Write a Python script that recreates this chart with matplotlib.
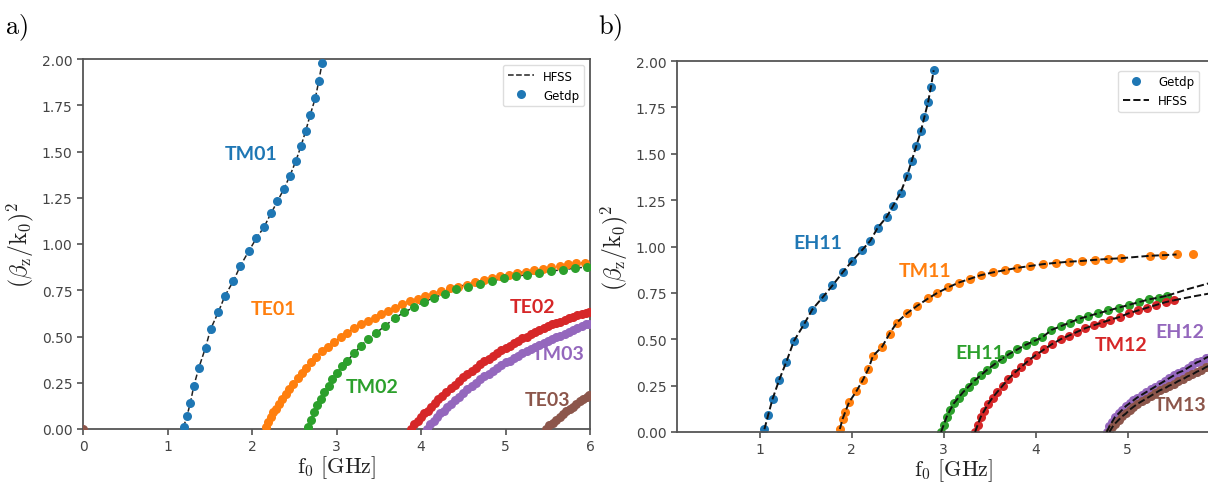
# -*- coding: utf-8 -*-
import matplotlib
matplotlib.use("Agg")
import matplotlib.pyplot as plt
from matplotlib.lines import Line2D

plt.rcParams['font.family'] = ['DejaVu Sans']
plt.rcParams['mathtext.fontset'] = 'cm'

# ---------------- panel a) : Getdp points ----------------
tm01_f = [1.19, 1.23, 1.27, 1.31, 1.37, 1.45, 1.51, 1.60, 1.68, 1.78, 1.86, 1.96, 2.05,
          2.14, 2.23, 2.30, 2.38, 2.45, 2.52, 2.58, 2.635, 2.69, 2.75, 2.79, 2.83]
tm01_v = [0.01, 0.07, 0.14, 0.23, 0.33, 0.44, 0.54, 0.63, 0.72, 0.80, 0.88, 0.96, 1.03,
          1.09, 1.17, 1.23, 1.30, 1.37, 1.45, 1.53, 1.61, 1.70, 1.79, 1.88, 1.98]

te01_f = [2.16, 2.19, 2.22, 2.25, 2.28, 2.32, 2.36, 2.40, 2.44, 2.49, 2.54, 2.59, 2.64,
          2.70, 2.76, 2.83, 2.90, 2.97, 3.05, 3.13, 3.21, 3.29, 3.37, 3.45, 3.53, 3.61,
          3.69, 3.78, 3.87, 3.96, 4.05, 4.14, 4.24, 4.34, 4.44, 4.54, 4.64, 4.74, 4.84,
          4.94, 5.04, 5.14, 5.24, 5.34, 5.44, 5.54, 5.64, 5.74, 5.84, 5.94]
te01_v = [0.01, 0.04, 0.065, 0.09, 0.11, 0.135, 0.16, 0.19, 0.215, 0.245, 0.275, 0.305, 0.33,
          0.36, 0.39, 0.42, 0.445, 0.47, 0.495, 0.52, 0.545, 0.565, 0.585, 0.60, 0.62, 0.64,
          0.655, 0.675, 0.69, 0.705, 0.72, 0.73, 0.745, 0.76, 0.77, 0.78, 0.795, 0.805, 0.815,
          0.825, 0.835, 0.845, 0.85, 0.86, 0.865, 0.875, 0.88, 0.89, 0.895, 0.90]

tm02_f = [2.66, 2.70, 2.735, 2.775, 2.815, 2.855, 2.91, 2.95, 3.01, 3.07, 3.13, 3.21, 3.29,
          3.37, 3.47, 3.57, 3.69, 3.80, 3.92, 4.03, 4.15, 4.28, 4.42, 4.56, 4.70, 4.84,
          4.98, 5.12, 5.26, 5.40, 5.54, 5.68, 5.82, 5.96]
tm02_v = [0.01, 0.05, 0.09, 0.13, 0.16, 0.20, 0.235, 0.27, 0.305, 0.34, 0.37, 0.41, 0.45,
          0.485, 0.52, 0.555, 0.60, 0.63, 0.66, 0.685, 0.71, 0.73, 0.755, 0.77, 0.785, 0.80,
          0.815, 0.825, 0.835, 0.845, 0.855, 0.86, 0.87, 0.875]

te02_f = [3.88, 3.92, 3.96, 4.00, 4.04, 4.08, 4.12, 4.16, 4.20, 4.25, 4.30, 4.35, 4.40,
          4.45, 4.50, 4.55, 4.60, 4.65, 4.70, 4.75, 4.80, 4.85, 4.90, 4.95, 5.00, 5.05,
          5.10, 5.15, 5.20, 5.25, 5.30, 5.35, 5.40, 5.45, 5.50, 5.55, 5.60, 5.65, 5.70,
          5.75, 5.80, 5.85, 5.90, 5.95, 5.99]
te02_v = [0.00, 0.025, 0.045, 0.065, 0.085, 0.10, 0.12, 0.14, 0.16, 0.18, 0.20, 0.22, 0.24,
          0.26, 0.28, 0.30, 0.315, 0.33, 0.35, 0.365, 0.38, 0.395, 0.41, 0.425, 0.44, 0.45,
          0.465, 0.475, 0.49, 0.50, 0.515, 0.525, 0.535, 0.545, 0.555, 0.565, 0.575, 0.58, 0.59,
          0.60, 0.605, 0.615, 0.62, 0.625, 0.63]

tm03_f = [4.07, 4.11, 4.15, 4.19, 4.23, 4.27, 4.31, 4.35, 4.40, 4.45, 4.50, 4.55, 4.60,
          4.65, 4.70, 4.75, 4.80, 4.85, 4.90, 4.95, 5.00, 5.05, 5.10, 5.15, 5.20, 5.25,
          5.30, 5.35, 5.40, 5.45, 5.50, 5.55, 5.60, 5.65, 5.70, 5.75, 5.80, 5.85, 5.90,
          5.95, 5.99]
tm03_v = [0.00, 0.025, 0.045, 0.065, 0.085, 0.10, 0.12, 0.135, 0.155, 0.175, 0.195, 0.215, 0.235,
          0.25, 0.27, 0.285, 0.30, 0.315, 0.33, 0.345, 0.36, 0.37, 0.385, 0.395, 0.41, 0.42,
          0.435, 0.445, 0.455, 0.465, 0.475, 0.485, 0.495, 0.505, 0.515, 0.525, 0.535, 0.545, 0.555,
          0.565, 0.57]

te03_f = [0.0, 5.48, 5.52, 5.56, 5.60, 5.64, 5.68, 5.72, 5.76, 5.80, 5.84, 5.88, 5.92, 5.96, 5.99]
te03_v = [0.0, 0.0, 0.02, 0.035, 0.05, 0.065, 0.08, 0.095, 0.11, 0.12, 0.135, 0.15, 0.16, 0.175, 0.185]

# ---------------- panel b) : Getdp points ----------------
eh11_f = [1.05, 1.09, 1.14, 1.21, 1.29, 1.37, 1.48, 1.57, 1.69, 1.79, 1.90, 2.00, 2.11,
          2.20, 2.28, 2.38, 2.45, 2.53, 2.60, 2.65, 2.70, 2.75, 2.79, 2.83, 2.86, 2.89]
eh11_v = [0.015, 0.09, 0.18, 0.28, 0.38, 0.49, 0.58, 0.66, 0.73, 0.79, 0.86, 0.92, 0.98,
          1.03, 1.10, 1.16, 1.22, 1.29, 1.38, 1.46, 1.54, 1.62, 1.70, 1.78, 1.86, 1.95]

tm11_f = [1.87, 1.90, 1.93, 1.97, 2.05, 2.12, 2.18, 2.23, 2.33, 2.41, 2.49, 2.60, 2.71,
          2.83, 2.93, 3.05, 3.16, 3.28, 3.40, 3.53, 3.66, 3.80, 3.94, 4.08, 4.22, 4.36,
          4.50, 4.64, 4.79, 4.93, 5.24, 5.38, 5.53, 5.71]
tm11_v = [0.016, 0.07, 0.11, 0.16, 0.22, 0.28, 0.34, 0.41, 0.46, 0.53, 0.59, 0.64, 0.68,
          0.72, 0.75, 0.78, 0.805, 0.825, 0.845, 0.86, 0.872, 0.885, 0.895, 0.905, 0.912, 0.918,
          0.922, 0.928, 0.933, 0.937, 0.95, 0.953, 0.957, 0.958]

eh11b_f = [2.97, 3.00, 3.03, 3.07, 3.11, 3.16, 3.21, 3.27, 3.33, 3.40, 3.47, 3.55, 3.63,
           3.71, 3.80, 3.89, 3.98, 4.07, 4.17, 4.27, 4.37, 4.47, 4.57, 4.68, 4.79, 4.90,
           5.01, 5.12, 5.23, 5.34, 5.43]
eh11b_v = [0.00, 0.04, 0.08, 0.12, 0.155, 0.185, 0.215, 0.245, 0.275, 0.305, 0.335, 0.365, 0.395,
           0.42, 0.445, 0.47, 0.49, 0.51, 0.55, 0.57, 0.59, 0.61, 0.625, 0.64, 0.655, 0.67,
           0.685, 0.70, 0.715, 0.725, 0.735]

tm12_f = [3.34, 3.37, 3.40, 3.44, 3.48, 3.53, 3.58, 3.64, 3.70, 3.77, 3.84, 3.92, 4.00,
          4.09, 4.18, 4.27, 4.36, 4.45, 4.54, 4.63, 4.72, 4.81, 4.91, 5.01, 5.11, 5.21,
          5.31, 5.41, 5.50]
tm12_v = [0.00, 0.04, 0.08, 0.115, 0.15, 0.185, 0.215, 0.25, 0.285, 0.32, 0.35, 0.385, 0.415,
          0.445, 0.475, 0.50, 0.52, 0.54, 0.56, 0.575, 0.59, 0.605, 0.62, 0.64, 0.655, 0.67,
          0.685, 0.70, 0.71]

eh12_f = [4.77, 4.80, 4.83, 4.86, 4.90, 4.94, 4.98, 5.02, 5.06, 5.10, 5.15, 5.20, 5.25,
          5.30, 5.35, 5.40, 5.45, 5.50, 5.55, 5.60, 5.65, 5.70, 5.75, 5.80, 5.85, 5.90]
eh12_v = [0.00, 0.03, 0.055, 0.08, 0.10, 0.12, 0.14, 0.155, 0.17, 0.185, 0.20, 0.215, 0.23,
          0.245, 0.26, 0.275, 0.29, 0.305, 0.32, 0.33, 0.345, 0.36, 0.375, 0.385, 0.40, 0.41]

tm13_f = [4.80, 4.83, 4.86, 4.90, 4.94, 4.98, 5.02, 5.06, 5.10, 5.15, 5.20, 5.25, 5.30,
          5.35, 5.40, 5.45, 5.50, 5.55, 5.60, 5.65, 5.70, 5.75, 5.80, 5.85, 5.90]
tm13_v = [0.00, 0.025, 0.045, 0.065, 0.085, 0.10, 0.12, 0.135, 0.15, 0.165, 0.18, 0.195, 0.21,
          0.225, 0.235, 0.25, 0.26, 0.275, 0.285, 0.30, 0.31, 0.325, 0.335, 0.35, 0.36]

# HFSS curves that run past the last Getdp point in b)
eh11b_ext_f = [5.43, 5.65, 5.87, 6.10]
eh11b_ext_v = [0.735, 0.77, 0.80, 0.83]
tm12_ext_f = [5.50, 5.70, 5.87, 6.10]
tm12_ext_v = [0.71, 0.73, 0.745, 0.765]

# labels: text, f, value, colour index
labels_a = [("TM01", 1.99, 1.49, 0), ("TE01", 2.25, 0.65, 1), ("TM02", 3.42, 0.23, 2),
            ("TE02", 5.32, 0.66, 3), ("TM03", 5.62, 0.41, 4), ("TE03", 5.50, 0.16, 5)]
labels_b = [("EH11", 1.63, 1.02, 0), ("TM11", 2.80, 0.87, 1), ("EH11", 3.39, 0.43, 2),
            ("TM12", 4.93, 0.47, 3), ("EH12", 5.57, 0.54, 4), ("TM13", 5.57, 0.15, 5)]

cols = ['#1f77b4', '#ff7f0e', '#2ca02c', '#d62728', '#9467bd', '#8c564b']
ms = 6.5
spine_c = '#555555'

fig = plt.figure(figsize=(12.08, 4.85), dpi=100)
ax1 = fig.add_axes([83/1208, 55/485, 507/1208, 370/485])
ax2 = fig.add_axes([677/1208, 52/485, 553/1208, 371/485])  # cut off by the right edge


def style(ax):
    for s in ax.spines.values():
        s.set_color(spine_c)
        s.set_linewidth(1.3)
    ax.tick_params(colors='#444444', labelsize=10, width=1.1, length=4)
    ax.set_ylim(0, 2.0)
    ax.set_yticks([0, 0.25, 0.5, 0.75, 1.0, 1.25, 1.5, 1.75, 2.0])
    ax.set_yticklabels(['%.2f' % t for t in ax.get_yticks()])
    ax.set_ylabel(r'$(\beta_\mathrm{z}/\mathrm{k}_0)^2$', fontsize=17, color='#222222', labelpad=4)
    ax.set_xlabel(r'$\mathrm{f_0\ [GHz]}$', fontsize=16, color='#222222', labelpad=0)


# ---- a) HFSS first, dots on top
series_a = [(tm01_f, tm01_v), (te01_f, te01_v), (tm02_f, tm02_v),
            (te02_f, te02_v), (tm03_f, tm03_v), (te03_f[1:], te03_v[1:])]
for f, v in series_a:
    ax1.plot(f, v, '--', color='#222222', lw=1.1, zorder=2)
dots_a = [(tm01_f, tm01_v), (te01_f, te01_v), (tm02_f, tm02_v),
          (te02_f, te02_v), (tm03_f, tm03_v), (te03_f, te03_v)]
for i, (f, v) in enumerate(dots_a):
    ax1.plot(f, v, 'o', color=cols[i], ms=ms, mec='none', zorder=3)
for t, x, y, c in labels_a:
    ax1.text(x, y, t, color=cols[c], fontsize=14, fontweight='bold',
             family=['Lato', 'DejaVu Sans'], ha='center', va='center')
ax1.set_xlim(0, 6)
ax1.set_xticks([0, 1, 2, 3, 4, 5, 6])
style(ax1)
h_a = [Line2D([], [], ls='--', color='#222222', lw=1.1),
       Line2D([], [], ls='none', marker='o', color=cols[0], ms=ms, mec='none')]
ax1.legend(h_a, ['HFSS', 'Getdp'], loc='upper right', fontsize=8.5, framealpha=1,
           edgecolor='#dddddd', handlelength=2.2)

# ---- b) dots first, HFSS on top
dots_b = [(eh11_f, eh11_v), (tm11_f, tm11_v), (eh11b_f, eh11b_v),
          (tm12_f, tm12_v), (eh12_f, eh12_v), (tm13_f, tm13_v)]
for i, (f, v) in enumerate(dots_b):
    ax2.plot(f, v, 'o', color=cols[i], ms=ms, mec='none', zorder=2)
lines_b = [(eh11_f, eh11_v), (tm11_f[:-1], tm11_v[:-1]), (eh11b_f, eh11b_v),
           (tm12_f, tm12_v), (eh12_f, eh12_v), (tm13_f, tm13_v),
           (eh11b_ext_f, eh11b_ext_v), (tm12_ext_f, tm12_ext_v)]
for f, v in lines_b:
    ax2.plot(f, v, '--', color='#111111', lw=1.4, zorder=3)
for t, x, y, c in labels_b:
    ax2.text(x, y, t, color=cols[c], fontsize=14, fontweight='bold',
             family=['Lato', 'DejaVu Sans'], ha='center', va='center')
ax2.set_xlim(0.1, 0.1 + 553/92)
ax2.set_xticks([1, 2, 3, 4, 5])
style(ax2)
h_b = [Line2D([], [], ls='none', marker='o', color=cols[0], ms=ms, mec='none'),
       Line2D([], [], ls='--', color='#111111', lw=1.4)]
ax2.legend(h_b, ['Getdp', 'HFSS'], loc='upper right', bbox_to_anchor=(0.955, 0.99),
           fontsize=8.5, framealpha=1, edgecolor='#dddddd', handlelength=2.2)

# panel letters
fig.text(5/1208, 1 - 28/485, r'$\mathrm{a)}$', fontsize=19, va='center')
fig.text(598/1208, 1 - 28/485, r'$\mathrm{b)}$', fontsize=19, va='center')

fig.savefig('out.png', dpi=100)
